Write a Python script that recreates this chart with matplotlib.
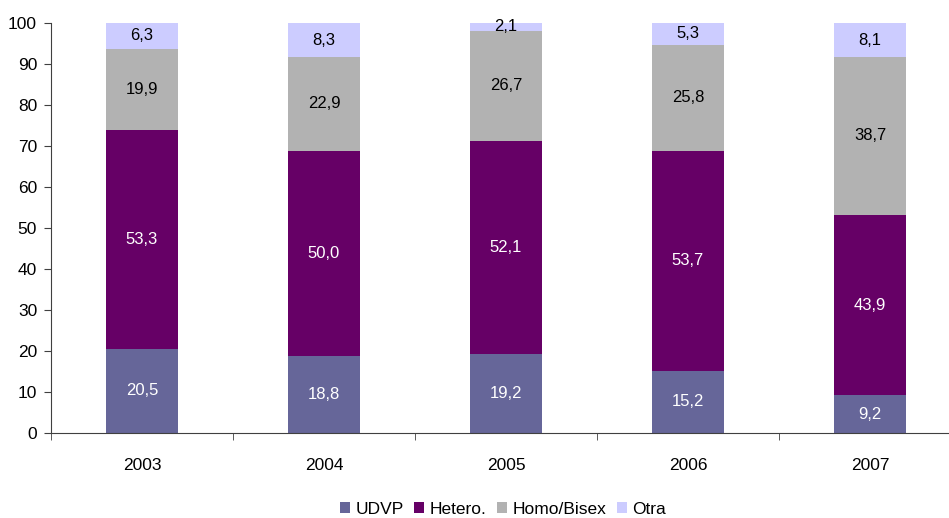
import numpy as np
import matplotlib.pyplot as plt

plt.rcParams['font.family'] = ['Liberation Sans', 'DejaVu Sans']

years = ["2003", "2004", "2005", "2006", "2007"]
udvp = [20.5, 18.8, 19.2, 15.2, 9.2]
hetero = [53.3, 50.0, 52.1, 53.7, 43.9]
homo = [19.9, 22.9, 26.7, 25.8, 38.7]
otra = [6.3, 8.3, 2.1, 5.3, 8.1]

series = [("UDVP", udvp, "#666699", "white"),
          ("Hetero.", hetero, "#660066", "white"),
          ("Homo/Bisex", homo, "#B2B2B2", "black"),
          ("Otra", otra, "#CCCCFF", "black")]

fig = plt.figure(figsize=(9.49, 5.18), dpi=100)
ax = fig.add_axes([51/949, 85/518, 910/949, 410/518])

x = np.arange(len(years))
bottom = np.zeros(len(years))
for name, vals, col, tcol in series:
    vals = np.array(vals)
    ax.bar(x, vals, 0.40, bottom=bottom, color=col, label=name)
    for xi, b, v in zip(x, bottom, vals):
        ax.text(xi, b + v / 2, f"{v:.1f}".replace(".", ","), ha="center",
                va="center", color=tcol, fontsize=12)
    bottom += vals

ax.set_xlim(-0.5, 4.5)
ax.set_ylim(0, 100)
ax.set_yticks(range(0, 101, 10))
ax.set_xticks(x)
ax.set_xticklabels(years)
ax.set_xticks(np.arange(-0.5, 5, 1), minor=True)
ax.tick_params(axis="x", which="major", length=0, pad=18, labelsize=12.5)
ax.tick_params(axis="x", which="minor", length=5, direction="out", color="#404040")
ax.tick_params(axis="y", length=5, direction="out", color="#404040", labelsize=12.5, pad=5)
for s in ["top", "right"]:
    ax.spines[s].set_visible(False)
ax.spines["left"].set_color("#404040")
ax.spines["bottom"].set_color("#404040")

fig.legend(loc="center", bbox_to_anchor=(503/949, 1 - 509/518), ncol=4,
           frameon=False, fontsize=12.5, handlelength=0.6, handleheight=0.6,
           handletextpad=0.3, columnspacing=0.6)

fig.savefig("out.png", dpi=100)
